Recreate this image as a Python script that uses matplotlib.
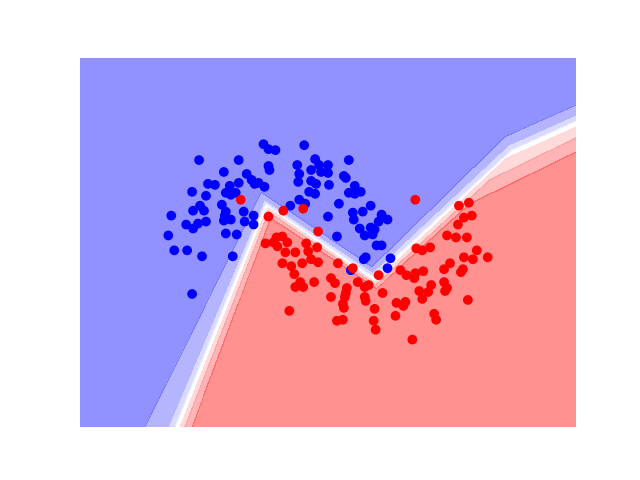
import numpy as np
import matplotlib
matplotlib.use('Agg')
import matplotlib.pyplot as plt

# moons data (class 0 = blue, class 1 = red)
blue_x = [-0.15, -0.10, -0.03, -0.80, -0.40, -0.10, -0.09, -0.55, -0.32, -0.27,
          -0.20, -0.24, -0.40, -0.71, -0.64, -0.49, -0.14, -0.87, -0.53, -0.48,
          -0.43, -0.73, -0.57, -0.79, -0.75, -0.86, -0.53, -0.35, -1.08, -0.54,
          -0.48, -0.55, -0.25, -0.34, -0.25, -0.93, -0.86, -0.81, -0.73, -1.11,
          -0.53, -0.42, 0.26, 0.37, 0.19, 0.41, 0.50, 0.71, 0.33, 0.21,
          0.43, 0.50, 0.20, 0.33, 0.38, 0.51, 0.66, 0.68, 0.77, 0.71,
          0.77, 0.83, 0.31, 0.37, 0.21, 0.27, 0.12, 0.61, 0.93, 0.75,
          0.85, 0.76, 1.04, 1.10, 1.01, 0.50, 0.82, 0.93, 0.97, 0.87,
          0.95, 0.59, 0.99, 1.04, 0.86, 0.88, 0.73, 1.13, 1.10, -1.05,
          -0.92, -0.77, -0.46, -0.87]
blue_y = [0.99, 0.94, 0.93, 0.83, 0.83, 0.77, 0.73, 0.71, 0.69, 0.63,
          0.60, 0.59, 0.60, 0.59, 0.58, 0.57, 0.56, 0.51, 0.50, 0.48,
          0.50, 0.47, 0.38, 0.37, 0.32, 0.32, 0.31, 0.31, 0.27, 0.27,
          0.23, 0.22, 0.27, 0.21, 0.18, 0.18, 0.14, 0.19, 0.21, 0.07,
          0.09, 0.08, 0.98, 0.84, 0.78, 0.78, 0.78, 0.83, 0.73, 0.69,
          0.71, 0.70, 0.61, 0.62, 0.59, 0.58, 0.67, 0.65, 0.57, 0.50,
          0.49, 0.51, 0.51, 0.49, 0.43, 0.39, 0.37, 0.39, 0.37, 0.30,
          0.31, 0.23, 0.28, 0.23, 0.21, 0.26, 0.14, 0.15, 0.13, 0.07,
          0.08, 0.06, -0.03, -0.03, -0.17, -0.15, -0.28, -0.16, -0.26, -0.08,
          -0.08, -0.14, -0.14, -0.52]

red_x = [-0.38, -0.10, 0.05, 0.25, 0.40, 1.38, 1.82, 1.92, 1.87, 1.95,
         1.81, 1.70, 1.79, 1.90, -0.13, -0.05, -0.02, 0.04, 0.09, -0.01,
         0.07, 0.17, 0.28, 0.30, 0.39, 0.04, 0.13, 0.24, 0.33, 0.40,
         0.16, 0.60, 0.75, 0.22, 0.17, 0.25, 0.36, 0.53, 0.57, 0.80,
         0.87, 0.91, 1.01, 0.69, 0.68, 0.67, 0.53, 0.87, 0.88, 1.05,
         0.65, 0.66, 0.97, 0.11, 1.19, 1.18, 0.59, 0.65, 0.96, 0.98,
         1.39, 1.45, 1.53, 2.00, 2.11, 1.87, 1.96, 1.73, 1.67, 1.86,
         1.84, 1.23, 1.29, 1.38, 1.37, 1.46, 1.54, 1.67, 1.70, 1.68,
         1.42, 1.51, 1.45, 1.91, 1.28, 1.26, 1.57, 1.59, 1.35]
red_y = [0.43, 0.26, 0.32, 0.34, 0.11, 0.43, 0.37, 0.40, 0.25, 0.27,
         0.18, 0.07, 0.05, 0.05, -0.01, 0.00, 0.05, 0.06, 0.00, -0.04,
         -0.10, -0.10, -0.01, -0.09, -0.05, -0.21, -0.24, -0.21, -0.17, -0.20,
         -0.32, -0.21, -0.26, -0.40, -0.45, -0.45, -0.40, -0.36, -0.41, -0.40,
         -0.45, -0.43, -0.33, -0.46, -0.51, -0.55, -0.55, -0.55, -0.59, -0.51,
         -0.62, -0.66, -0.67, -0.69, -0.61, -0.74, -0.79, -0.78, -0.79, -0.88,
         -0.06, -0.08, -0.05, -0.08, -0.15, -0.15, -0.17, -0.21, -0.27, -0.27,
         -0.30, -0.28, -0.33, -0.31, -0.36, -0.29, -0.43, -0.40, -0.46, -0.49,
         -0.49, -0.50, -0.57, -0.58, -0.60, -0.64, -0.72, -0.78, -0.98]

# probability levels of the decision surface and where each level line runs
prob_levels = [0.0, 0.15, 0.30, 0.45, 0.60, 0.75, 0.90, 1.05]
line_probs = [0.90, 0.75, 0.60, 0.45, 0.30, 0.15]
line_x = [[-2.40, -0.08, 0.99, 1.94, 3.44],
          [-2.40, -0.10, 0.98, 2.13, 3.44],
          [-2.40, -0.11, 0.97, 2.30, 3.44],
          [-2.40, -0.13, 0.96, 2.35, 3.44],
          [-2.40, -0.14, 0.95, 2.32, 3.44],
          [-2.40, -0.17, 0.94, 2.28, 3.44]]
line_y = [[-5.91, 0.25, -0.46, 0.40, 1.13],
          [-5.61, 0.31, -0.43, 0.63, 1.27],
          [-5.39, 0.35, -0.40, 0.85, 1.36],
          [-5.21, 0.39, -0.35, 0.93, 1.42],
          [-4.91, 0.43, -0.30, 0.98, 1.48],
          [-4.00, 0.50, -0.25, 1.06, 1.57]]

x_min, x_max = -2.0, 3.0
y_min, y_max = -1.863, 1.863

X = np.c_[np.r_[blue_x, red_x], np.r_[blue_y, red_y]]
labels = np.r_[np.zeros(len(blue_x)), np.ones(len(red_x))]

xx, yy = np.meshgrid(np.arange(x_min, x_max + 0.01, 0.01),
                     np.arange(y_min, y_max + 0.01, 0.01))

# build the probability surface column by column
edges = np.array([np.interp(xx[0], lx, ly) for lx, ly in zip(line_x, line_y)])
Z = np.zeros_like(xx)
for j in range(xx.shape[1]):
    e = edges[:, j]
    xp = np.r_[e[0] - 10, e, e[-1] + 10]
    fp = np.r_[1.0, line_probs, 0.0]
    Z[:, j] = np.interp(yy[:, j], xp, fp)

plt.figure(figsize=(6.4, 4.8), dpi=100)
plt.contourf(xx, yy, Z, levels=prob_levels, cmap=plt.cm.bwr, alpha=0.5)
plt.scatter(X[:, 0], X[:, 1], c=labels, cmap=plt.cm.bwr)
plt.xlim(x_min, x_max)
plt.ylim(y_min, y_max)
plt.axis('off')
plt.savefig('out.png')
